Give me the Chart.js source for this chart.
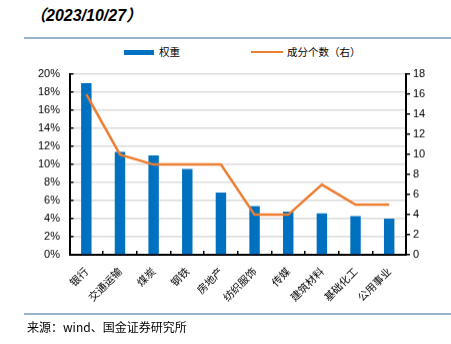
<!DOCTYPE html>
<html><head><meta charset="utf-8">
<script src="https://cdn.jsdelivr.net/npm/chart.js@4/dist/chart.umd.min.js"></script>
<style>
body{margin:0;width:451px;height:344px;position:relative;background:#fff;overflow:hidden;font-family:"Noto Sans CJK SC",sans-serif;color:#000;}
#title{position:absolute;left:30px;top:5px;font:italic bold 16px "Liberation Sans","Noto Sans CJK SC";line-height:22px;white-space:nowrap;}
.rule{position:absolute;left:24px;width:427px;height:2px;background:#96B3C9;}
.lg{position:absolute;font-size:10.5px;line-height:12px;white-space:nowrap;}
#wrap{position:absolute;left:0;top:54.4px;width:451px;height:259.6px;}
#src{position:absolute;left:27px;top:319px;font-size:12px;line-height:16px;white-space:nowrap;}
</style></head>
<body>
<div id="title">（2023/10/27）</div>
<div class="rule" style="top:37px"></div>
<div style="position:absolute;left:124px;top:50px;width:30px;height:5px;background:#0070C0"></div>
<div class="lg" style="left:159px;top:46px">权重</div>
<div style="position:absolute;left:251px;top:51px;width:32px;height:2px;background:#ED7D31"></div>
<div class="lg" style="left:287px;top:46px">成分个数（右）</div>
<div id="wrap"><canvas id="c"></canvas></div>
<div class="rule" style="top:313px"></div>
<div id="src">来源：wind、国金证券研究所</div>
<script>
const categories = ['银行','交通运输','煤炭','钢铁','房地产','纺织服饰','传媒','建筑材料','基础化工','公用事业'];
const weights = [19.0,11.4,11.0,9.5,6.9,5.4,4.8,4.6,4.3,4.0];
const counts = [16,10,9,9,9,4,4,7,5,5];
const leftTickStep = 2, leftMax = 20;
const rightTickStep = 2, rightMax = 18;

new Chart(document.getElementById('c'), {
  data: {
    labels: categories,
    datasets: [
      {type:'line', label:'成分个数（右）', data:counts, yAxisID:'y1', borderColor:'#ED7D31', borderWidth:2.5, pointRadius:0, tension:0, order:0},
      {type:'bar', label:'权重', data:weights, yAxisID:'y', backgroundColor:'#0070C0', barPercentage:0.31, categoryPercentage:1, order:1}
    ]
  },
  options: {
    responsive:true, maintainAspectRatio:false, animation:false, devicePixelRatio:1,
    layout:{padding:{top:0,left:0,right:0,bottom:0}},
    plugins:{legend:{display:false}, tooltip:{enabled:false}},
    scales:{
      x:{
        offset:true,
        grid:{offset:true, drawOnChartArea:false, drawTicks:true, tickLength:-4, color:'#000', tickColor:'#000', lineWidth:1.5},
        border:{color:'#000', width:2},
        ticks:{minRotation:45, maxRotation:45, autoSkip:false, color:'#000', padding:14, font:{family:'"Noto Sans CJK SC"', size:10.5}},
        afterFit:s=>{s.height=59.5;}
      },
      y:{
        position:'left', min:0, max:leftMax,
        ticks:{stepSize:leftTickStep, callback:v=>v+'%', color:'#000', padding:13.5, font:{family:'"Liberation Sans"', size:11}},
        grid:{color:'#dcdcdc', lineWidth:1.5, tickColor:'#000', tickLength:-4},
        border:{color:'#000', width:2},
        afterFit:s=>{s.width=69.5;}
      },
      y1:{
        position:'right', min:0, max:rightMax,
        ticks:{stepSize:rightTickStep, color:'#000', padding:3, font:{family:'"Liberation Sans"', size:11}},
        grid:{drawOnChartArea:false, tickColor:'#000', tickLength:4, lineWidth:1.5},
        border:{color:'#000', width:2},
        afterFit:s=>{s.width=45;}
      }
    }
  }
});
</script>
</body></html>
